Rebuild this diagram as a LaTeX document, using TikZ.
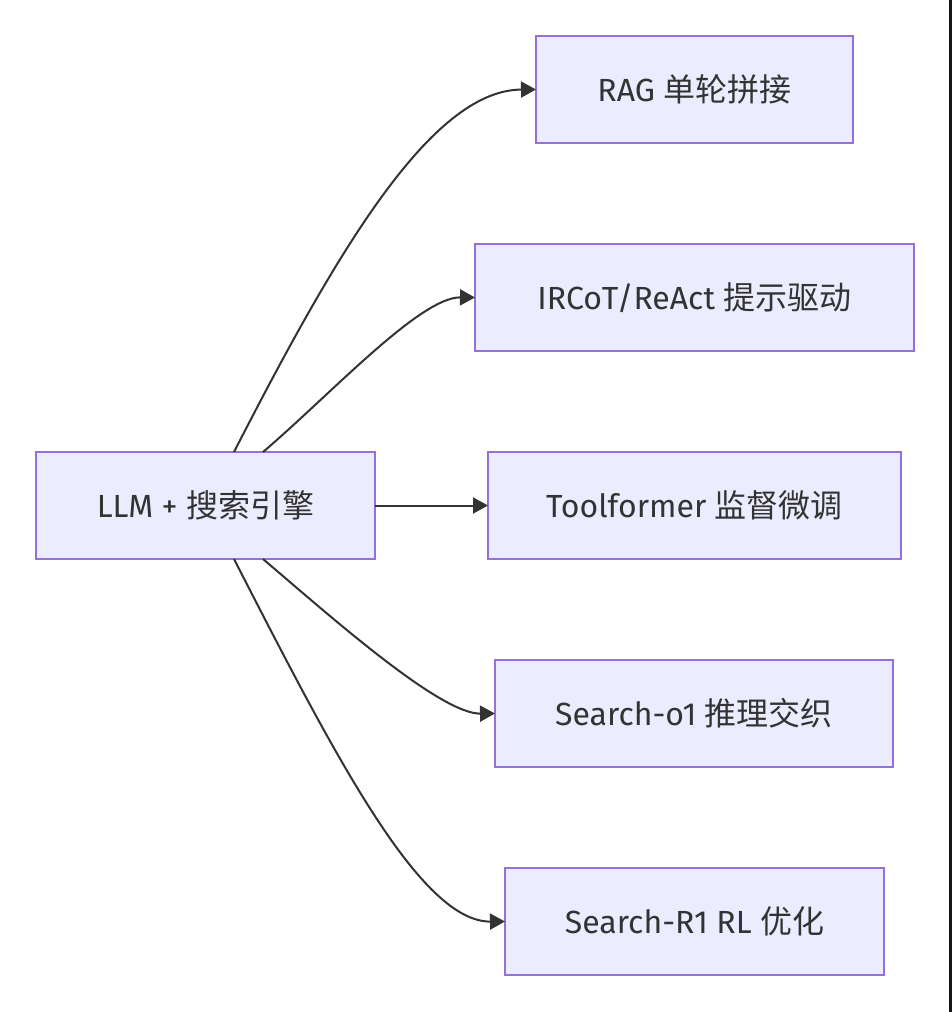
\documentclass[tikz,border=0pt]{standalone}
\usepackage{fontspec}
\setmainfont{Fira Sans}
\newfontfamily\cjk{Noto Sans CJK SC}
\usetikzlibrary{arrows.meta,calc}
\definecolor{boxfill}{HTML}{ECECFF}
\definecolor{boxline}{HTML}{9370DB}
\definecolor{ink}{HTML}{333333}
\begin{document}
\begin{tikzpicture}[x=1pt,y=-1pt,
  box/.style={draw=boxline,fill=boxfill,line width=2pt,inner sep=0pt,outer sep=0pt,
    minimum height=107pt,text=ink,font=\fontsize{32}{38}\selectfont},
  link/.style={draw=ink,line width=2pt,-{Triangle[length=15pt,width=16pt]}}]
\useasboundingbox (0,0) rectangle (952,1012);
\fill[white] (0,0) rectangle (952,1012);
\fill[black!92] (949,0) rectangle (952,1012);
\node[box,minimum width=339pt] (A) at (205.5,505.5) {LLM + {\cjk 搜索引擎}};
\node[box,minimum width=317pt] (B) at (694.5,89.5) {RAG {\cjk 单轮拼接}};
\node[box,minimum width=439pt] (C) at (694.5,297.5) {IRCoT/ReAct {\cjk 提示驱动}};
\node[box,minimum width=413pt] (D) at (694.5,505.5) {Toolformer {\cjk 监督微调}};
\node[box,minimum width=398pt] (E) at (694,713.5) {Search-o1 {\cjk 推理交织}};
\node[box,minimum width=379pt] (F) at (694.5,921.5) {Search-R1 RL {\cjk 优化}};
\draw[link] ([xshift=28.5pt]A.north) .. controls (334,257) and (430,90) .. (B.west);
\draw[link] ([xshift=57.5pt]A.north) .. controls (330,395) and (420,297) .. (C.west);
\draw[link] (A.east) -- (D.west);
\draw[link] ([xshift=57.5pt]A.south) .. controls (330,616) and (440,714) .. (E.west);
\draw[link] ([xshift=28.5pt]A.south) .. controls (334,754) and (420,922) .. (F.west);
\end{tikzpicture}
\end{document}
